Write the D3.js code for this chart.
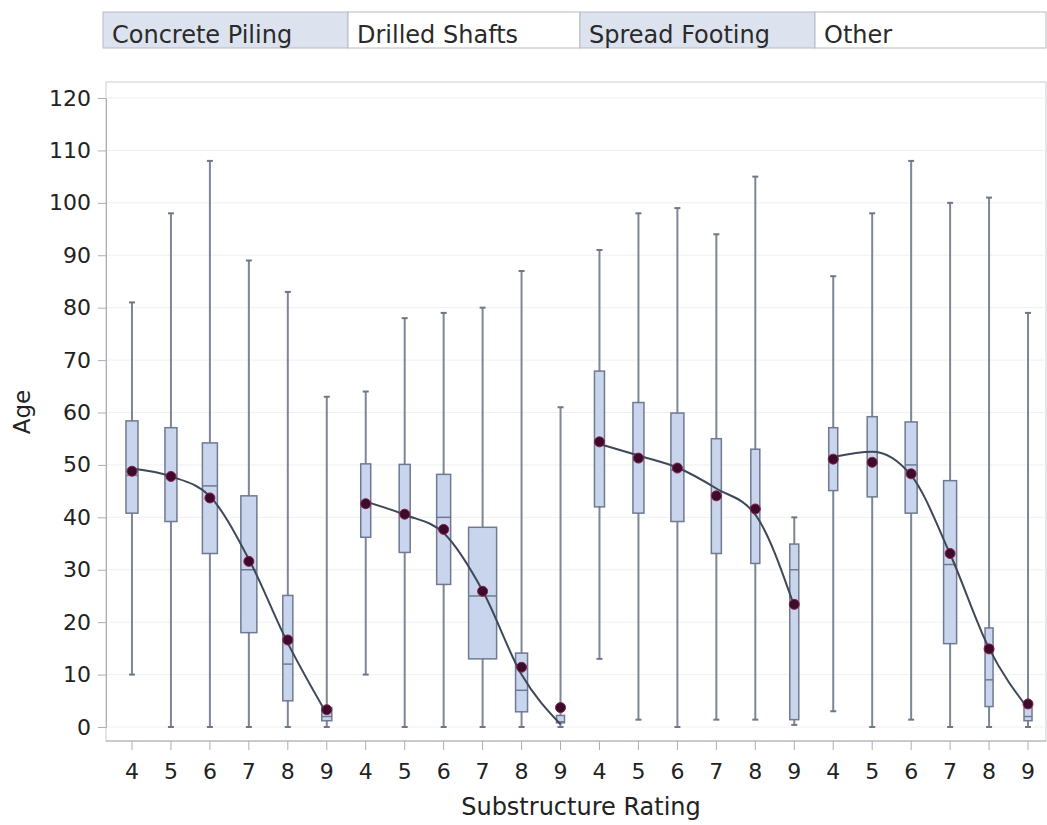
<!DOCTYPE html>
<html>
<head>
<meta charset="utf-8">
<script src="https://cdn.jsdelivr.net/npm/d3@7"></script>
<style>
  body { margin: 0; background: #ffffff; }
  svg { display: block; font-family: "DejaVu Sans", Verdana, sans-serif; }
</style>
</head>
<body>
<svg id="chart" width="1047" height="825"></svg>
<script>
// panels and ratings
var panels = ["Concrete Piling", "Drilled Shafts", "Spread Footing", "Other"];
var ratings = [4, 5, 6, 7, 8, 9];
var yTicks = [0, 10, 20, 30, 40, 50, 60, 70, 80, 90, 100, 110, 120];

// box statistics per panel, index follows ratings 4..9
var whiskerLow = [
    [10, 0, 0, 0, 0, 0],
    [10, 0, 0, 0, 0, 0],
    [13, 1.4, 0, 1.4, 1.4, 0.4],
    [3, 0, 1.4, 0, 0, 0]
];
var q1 = [
    [40.8, 39.2, 33.1, 18.0, 5.0, 1.2],
    [36.2, 33.3, 27.2, 13.0, 2.9, 0.8],
    [42.0, 40.8, 39.2, 33.1, 31.2, 1.4],
    [45.1, 43.9, 40.8, 15.9, 3.9, 1.2]
];
var median = [
    [48, 48, 46, 30, 12, 2],
    [42, 41, 40, 25, 7, 1],
    [54, 51, 49, 44, 42, 30],
    [51, 51, 50, 31, 9, 2]
];
var q3 = [
    [58.4, 57.1, 54.2, 44.1, 25.1, 3.7],
    [50.2, 50.1, 48.2, 38.1, 14.1, 2.2],
    [67.9, 61.9, 59.9, 55.0, 53.0, 34.9],
    [57.1, 59.2, 58.2, 47.0, 18.9, 3.7]
];
var whiskerHigh = [
    [81, 98, 108, 89, 83, 63],
    [64, 78, 79, 80, 87, 61],
    [91, 98, 99, 94, 105, 40],
    [86, 98, 108, 100, 101, 79]
];
var means = [
    [48.8, 47.8, 43.7, 31.6, 16.6, 3.3],
    [42.6, 40.6, 37.7, 25.9, 11.4, 3.7],
    [54.4, 51.3, 49.4, 44.1, 41.6, 23.4],
    [51.1, 50.5, 48.3, 33.1, 14.9, 4.4]
];
// relative number of bridges (drives box width)
var counts = [
    [12, 12, 15, 16, 10, 10],
    [10, 11, 14, 28, 12, 8],
    [10, 11, 13, 10, 9, 9],
    [9, 10, 12, 13, 8, 8]
];
// smooth fit per panel
var fit = [
    [49.3, 47.8, 44, 32, 16, 2.5],
    [43, 40.5, 37, 26, 10, 0.5],
    [54, 51.8, 49.5, 45.5, 40.5, 23],
    [51.5, 52.5, 48, 33, 15, 3.5]
];

var svg = d3.select("#chart");

var keys = [];
panels.forEach(function (p, i) {
    ratings.forEach(function (r) { keys.push(i + "-" + r); });
});

var x = d3.scaleBand().domain(keys).range([112.5, 1047.5]).padding(0);
var y = d3.scaleLinear().domain([0, 120]).range([727, 98]);
var wScale = d3.scaleLinear().domain([0, 28]).range([0, 28]);

var plotLeft = 106, plotTop = 82, plotBottom = 741, plotRight = 1046;

function cx(p, r) { return x(p + "-" + r) + x.bandwidth() / 2; }

// header cells
var cellEdges = [103, 348, 580, 815, 1046];
var header = svg.append("g");
panels.forEach(function (p, i) {
    header.append("rect")
        .attr("x", cellEdges[i])
        .attr("y", 12)
        .attr("width", cellEdges[i + 1] - cellEdges[i])
        .attr("height", 36)
        .attr("fill", i % 2 == 0 ? "#dde3ee" : "#ffffff")
        .attr("stroke", "#b5bac4")
        .attr("stroke-width", 1);
    header.append("text")
        .attr("x", cellEdges[i] + 9)
        .attr("y", 43)
        .attr("font-size", "24px")
        .attr("fill", "#2a2a2a")
        .text(p);
});

// plot frame + grid
svg.append("rect")
    .attr("x", plotLeft).attr("y", plotTop)
    .attr("width", plotRight - plotLeft).attr("height", plotBottom - plotTop)
    .attr("fill", "#ffffff")
    .attr("stroke", "#c9ccd2");

svg.append("g").selectAll("line")
    .data(yTicks)
    .enter().append("line")
    .attr("x1", plotLeft).attr("x2", plotRight)
    .attr("y1", function (d) { return y(d); })
    .attr("y2", function (d) { return y(d); })
    .attr("stroke", "#eef0f4");

// y axis
var yAxis = svg.append("g")
    .attr("transform", "translate(" + plotLeft + ",0)")
    .call(d3.axisLeft(y).tickValues(yTicks).tickSize(8).tickPadding(7));
yAxis.select(".domain").attr("stroke", "#a9aeb8");
yAxis.selectAll(".tick line").attr("stroke", "#a9aeb8");
yAxis.selectAll("text").attr("font-size", "22px").attr("fill", "#222")
    .attr("font-family", "DejaVu Sans, Verdana, sans-serif");

// x axis
var xAxis = svg.append("g")
    .attr("transform", "translate(0," + plotBottom + ")")
    .call(d3.axisBottom(x).tickSize(9).tickPadding(13)
        .tickFormat(function (d) { return d.split("-")[1]; }));
xAxis.select(".domain").attr("stroke", "#a9aeb8")
    .attr("d", "M" + plotLeft + ",0H" + plotRight);
xAxis.selectAll(".tick line").attr("stroke", "#a9aeb8");
xAxis.selectAll("text").attr("font-size", "22px").attr("fill", "#222")
    .attr("font-family", "DejaVu Sans, Verdana, sans-serif");

// axis titles
svg.append("text")
    .attr("x", 581).attr("y", 815)
    .attr("text-anchor", "middle")
    .attr("font-size", "24px").attr("fill", "#222")
    .text("Substructure Rating");
svg.append("text")
    .attr("transform", "translate(30,412) rotate(-90)")
    .attr("text-anchor", "middle")
    .attr("font-size", "23px").attr("fill", "#222")
    .text("Age");

// boxes
var g = svg.append("g");
panels.forEach(function (p, i) {
    ratings.forEach(function (r, j) {
        var c = cx(i, r);
        var w = wScale(counts[i][j]);
        // whisker
        g.append("line")
            .attr("x1", c).attr("x2", c)
            .attr("y1", y(whiskerLow[i][j])).attr("y2", y(whiskerHigh[i][j]))
            .attr("stroke", "#7e8696").attr("stroke-width", 2);
        [whiskerLow[i][j], whiskerHigh[i][j]].forEach(function (v) {
            g.append("line")
                .attr("x1", c - 3).attr("x2", c + 3)
                .attr("y1", y(v)).attr("y2", y(v))
                .attr("stroke", "#6f7786").attr("stroke-width", 2);
        });
        g.append("rect")
            .attr("x", c - w / 2)
            .attr("y", y(q3[i][j]))
            .attr("width", w)
            .attr("height", Math.max(1, y(q1[i][j]) - y(q3[i][j])))
            .attr("fill", "#c8d5ec")
            .attr("stroke", "#6e7a92")
            .attr("stroke-width", 1.5);
        g.append("line")
            .attr("x1", c - w / 2).attr("x2", c + w / 2)
            .attr("y1", y(median[i][j])).attr("y2", y(median[i][j]))
            .attr("stroke", "#6e7a92").attr("stroke-width", 1.5);
    });
});

// fit curves
var line = d3.line()
    .x(function (d) { return d[0]; })
    .y(function (d) { return y(d[1]); })
    .curve(d3.curveMonotoneX);

panels.forEach(function (p, i) {
    var pts = ratings.map(function (r, j) { return [cx(i, r), fit[i][j]]; });
    svg.append("path")
        .attr("d", line(pts))
        .attr("fill", "none")
        .attr("stroke", "#3e4858")
        .attr("stroke-width", 2);
});

// means
panels.forEach(function (p, i) {
    svg.append("g").selectAll("circle")
        .data(means[i])
        .enter().append("circle")
        .attr("cx", function (d, j) { return cx(i, ratings[j]); })
        .attr("cy", function (d) { return y(d); })
        .attr("r", 5)
        .attr("fill", "#3d0c2c")
        .attr("stroke", "#8a1f45")
        .attr("stroke-width", 1);
});
</script>
</body>
</html>
